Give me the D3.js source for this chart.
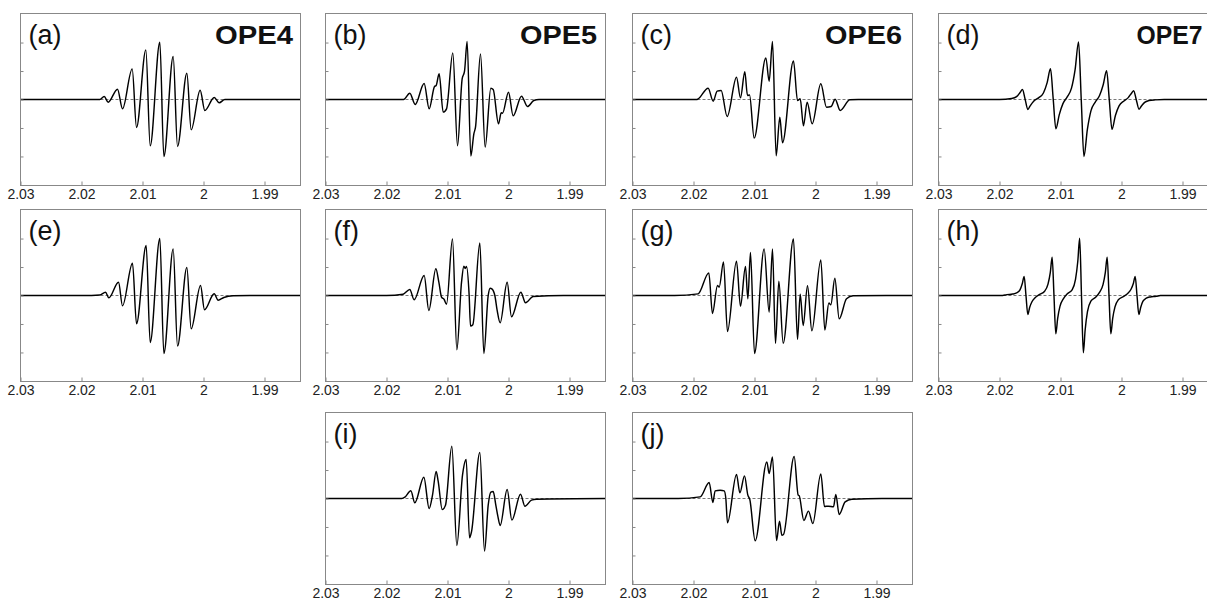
<!DOCTYPE html>
<html><head><meta charset="utf-8">
<script src="https://cdn.jsdelivr.net/npm/d3@7"></script>
<style>body{margin:0;background:#fff}svg{display:block}</style>
</head><body><svg id="c" width="1207" height="602"></svg>
<script>
// ---- data (g-value, intensity in tick units) ----
const xDomain = [2.03, 1.9841];
const yDomain = [-3.02, 3.02];
const xTicks = [2.03, 2.02, 2.01, 2.00, 1.99];
const yTicks = [-2, -1, 0, 1, 2];
const panelLabels = ["(a)","(b)","(c)","(d)","(e)","(f)","(g)","(h)","(i)","(j)"];
const titles = ["OPE4","OPE5","OPE6","OPE7"];

const specA = [[2.03,0],[2.0175,0],[2.0170,0],[2.01628,0.105],[2.01563,-0.094],[2.01410,0.363],[2.01328,-0.327],[2.01169,1.076],[2.01098,-0.982],[2.00945,1.743],[2.00874,-1.626],[2.00716,2.012],[2.00650,-2.0],[2.00497,1.509],[2.00426,-1.649],[2.00273,0.924],[2.00202,-1.064],[2.00055,0.327],[1.99978,-0.386],[1.99825,0.07],[1.99743,-0.117],[1.99650,0],[1.9841,0]];
const specB = [[2.03,0],[2.0172,0],[2.01618,0.222],[2.01530,-0.175],[2.01383,0.561],[2.01301,-0.327],[2.01213,0.456],[2.01186,0.491],[2.01137,0.901],[2.01071,-0.444],[2.01016,-0.327],[2.00913,1.637],[2.00836,-1.626],[2.00760,0.725],[2.00721,0.994],[2.00678,2.035],[2.00618,-1.988],[2.00568,-1.205],[2.00541,-0.971],[2.00459,1.602],[2.00383,-1.673],[2.00290,0.398],[2.00251,0.351],[2.00164,-0.854],[2.00120,-0.468],[2.00098,-0.480],[2.00000,0.257],[1.99924,-0.573],[1.99787,0.117],[1.99689,-0.246],[1.99585,-0.035],[1.9950,0],[1.9841,0]];
const specC = [[2.03,0],[2.0195,0],[2.01924,0.023],[2.01760,0.398],[2.01678,-0.058],[2.01612,0.292],[2.01547,0.316],[2.01448,-0.596],[2.01295,0.784],[2.01230,0.058],[2.01159,0.971],[2.01115,0.14],[2.01081,0.16],[2.01006,-1.357],[2.00814,1.462],[2.00760,0.643],[2.00705,2.035],[2.00645,-1.977],[2.00585,-0.620],[2.00541,-1.520],[2.00361,1.357],[2.00295,-0.035],[2.00251,0.023],[2.00197,-0.924],[2.00137,-0.094],[2.00055,-0.854],[1.99913,0.550],[1.99820,-0.269],[1.99743,-0.246],[1.99678,0.012],[1.99596,-0.386],[1.99437,-0.012],[1.9930,0],[1.9841,0]];
const specD = [[2.03,0],[2.0200,0],[2.0180,0.036],[2.0172,0.10],[2.0166,0.256],[2.01624,0.35],[2.0158,0.01],[2.01536,-0.35],[2.0150,-0.23],[2.0144,-0.06],[2.0136,0.058],[2.0128,0.23],[2.0122,0.585],[2.01164,1.08],[2.0112,0.03],[2.01076,-1.03],[2.0102,-0.53],[2.0096,-0.145],[2.0089,0.09],[2.0082,0.40],[2.0076,1.06],[2.00704,2.02],[2.0066,0],[2.00616,-2.0],[2.0056,-1.06],[2.0050,-0.39],[2.0043,-0.09],[2.0036,0.14],[2.0030,0.52],[2.00244,1.01],[2.0020,-0.02],[2.00156,-1.05],[2.0010,-0.56],[2.0004,-0.225],[1.9996,-0.05],[1.9989,0.066],[1.9983,0.24],[1.99801,0.31],[1.99757,-0.015],[1.99713,-0.34],[1.9967,-0.22],[1.9962,-0.10],[1.9955,-0.04],[1.9945,-0.013],[1.9930,0],[1.9841,0]];
const specE = [[2.03,0],[2.0197,0],[2.0170,0.02],[2.01607,0.117],[2.01552,-0.082],[2.01393,0.468],[2.01328,-0.363],[2.01164,1.135],[2.01098,-0.994],[2.00940,1.754],[2.00874,-1.649],[2.00716,2.0],[2.00650,-2.035],[2.00497,1.637],[2.00426,-1.778],[2.00273,0.982],[2.00202,-1.170],[2.00049,0.351],[1.99984,-0.503],[1.99825,0.058],[1.99760,-0.164],[1.99667,-0.07],[1.99514,-0.01],[1.9924,0],[1.9841,0]];
const specF = [[2.03,0],[2.0200,0],[2.01727,0.047],[2.01618,0.211],[2.01547,-0.152],[2.01383,0.702],[2.01306,-0.526],[2.01191,0.936],[2.01142,0.468],[2.01098,-0.058],[2.01055,-0.140],[2.01016,-0.304],[2.00918,1.988],[2.00847,-1.906],[2.00770,0.468],[2.00732,1.03],[2.00710,0.95],[2.00689,1.02],[2.00645,0],[2.00623,-1.076],[2.00585,-1.029],[2.00470,1.848],[2.00404,-2.035],[2.00333,0],[2.00301,0.257],[2.00273,0.234],[2.00224,0],[2.00186,-0.526],[2.00137,-0.959],[2.00022,0.468],[1.99951,-0.749],[1.99798,0.117],[1.99721,-0.257],[1.99596,-0.035],[1.9910,0],[1.9841,0]];
const specG = [[2.03,0],[2.0231,0],[2.01924,0.058],[2.01749,0.795],[2.01689,-0.632],[2.01607,0.351],[2.01579,0.292],[2.01508,1.181],[2.01443,-1.263],[2.01295,1.205],[2.01230,-0.374],[2.01148,1.018],[2.01109,-0.117],[2.01066,1.509],[2.01000,-2.035],[2.00842,1.637],[2.00760,-0.585],[2.00705,1.637],[2.00656,-1.684],[2.00601,0.503],[2.00530,-1.673],[2.00361,1.988],[2.00295,-1.544],[2.00251,0.047],[2.00202,-1.053],[2.00131,0.339],[2.00060,-1.240],[1.99913,1.251],[1.99847,-1.216],[1.99781,-0.26],[1.99749,-0.33],[1.99683,0.608],[1.99612,-0.819],[1.99492,-0.117],[1.99383,-0.012],[1.9884,0],[1.9841,0]];
const specH = [[2.03,0],[2.0195,0],[2.0188,0.03],[2.01785,0.05],[2.01719,0.09],[2.01664,0.2],[2.01626,0.42],[2.01596,0.67],[2.01566,0],[2.01536,-0.67],[2.01506,-0.42],[2.01468,-0.22],[2.01413,-0.07],[2.01347,0.03],[2.01260,0.15],[2.01205,0.4],[2.01167,0.81],[2.01137,1.345],[2.01107,0],[2.01077,-1.345],[2.01047,-0.81],[2.01009,-0.38],[2.00954,-0.12],[2.00888,0.06],[2.00810,0.2],[2.00754,0.57],[2.00716,1.21],[2.00686,2.01],[2.00656,0],[2.00626,-2.01],[2.00596,-1.21],[2.00558,-0.57],[2.00502,-0.2],[2.00424,-0.06],[2.00358,0.12],[2.00303,0.38],[2.00265,0.81],[2.00235,1.345],[2.00205,0],[2.00175,-1.345],[2.00145,-0.81],[2.00107,-0.4],[2.00052,-0.15],[1.99965,-0.03],[1.99899,0.07],[1.99844,0.22],[1.99806,0.42],[1.99776,0.67],[1.99746,0],[1.99716,-0.67],[1.99686,-0.42],[1.99648,-0.2],[1.99593,-0.09],[1.99527,-0.05],[1.99432,-0.03],[1.99362,0],[1.9841,0]];
const specI = [[2.03,0],[2.0175,0],[2.01699,0.047],[2.01601,0.269],[2.01536,-0.152],[2.01388,0.749],[2.01301,-0.351],[2.01246,0.117],[2.01186,0.947],[2.01153,0.608],[2.01087,-0.386],[2.01033,-0.234],[2.00929,1.836],[2.00847,-1.649],[2.00754,0.819],[2.00694,1.368],[2.00639,-1.380],[2.00607,-1.170],[2.00470,1.614],[2.00393,-1.848],[2.00333,-0.234],[2.00290,0.222],[2.00251,0.246],[2.00208,-0.234],[2.00175,-0.620],[2.00137,-0.947],[2.00022,0.316],[1.99945,-0.760],[1.99803,0.152],[1.99732,-0.269],[1.99623,-0.058],[1.99541,-0.023],[1.9841,0]];
const specJ = [[2.03,0],[2.0225,0],[2.01891,0.058],[2.01743,0.561],[2.01683,-0.140],[2.01645,0.269],[2.01563,0.292],[2.01497,0.269],[2.01470,0],[2.01443,-0.854],[2.01295,0.842],[2.01240,0.199],[2.01164,0.795],[2.01109,0.117],[2.01077,-0.035],[2.00989,-1.485],[2.00798,1.287],[2.00760,0.877],[2.00705,1.462],[2.00639,-1.474],[2.00590,-0.795],[2.00552,-1.287],[2.00525,-1.263],[2.00350,1.474],[2.00284,0.12],[2.00268,0.10],[2.00191,-0.772],[2.00115,-0.444],[2.00044,-0.877],[1.99913,0.865],[1.99853,-0.281],[1.99787,-0.269],[1.99705,-0.292],[1.99667,0.140],[1.99612,-0.561],[1.99514,-0.117],[1.99404,-0.023],[1.9891,0],[1.9841,0]];

// ---- layout ----
const W = 280, H = 172;
const colX = [20.5, 325.5, 632.5, 938.5];
const rowY = [13.5, 209.5, 412.5];
const titleX = [194.5, 194.5, 192.5, 198];
const titleW = [78, 77, 77, 66];
const panels = [
  {c:0,r:0,d:specA},{c:1,r:0,d:specB},{c:2,r:0,d:specC},{c:3,r:0,d:specD},
  {c:0,r:1,d:specE},{c:1,r:1,d:specF},{c:2,r:1,d:specG},{c:3,r:1,d:specH},
  {c:1,r:2,d:specI},{c:2,r:2,d:specJ}
];
const FONT = "'Liberation Sans', Arial, Helvetica, sans-serif";
const svg = d3.select('#c');

panels.forEach((p, i) => {
  const g = svg.append('g').attr('transform', `translate(${colX[p.c]},${rowY[p.r]})`);
  const x = d3.scaleLinear().domain(xDomain).range([0, W]);
  const y = d3.scaleLinear().domain(yDomain).range([H, 0]);
  const cid = 'clip' + i;
  g.append('clipPath').attr('id', cid).append('rect').attr('width', W).attr('height', H);

  g.append('line').attr('x1', 0).attr('x2', W).attr('y1', y(0)).attr('y2', y(0))
    .attr('stroke', '#555').attr('stroke-width', 0.8).attr('stroke-dasharray', '3,2');

  g.append('path').datum(p.d).attr('clip-path', `url(#${cid})`)
    .attr('d', d3.line().x(d => x(d[0])).y(d => y(d[1])).curve(d3.curveMonotoneX))
    .attr('fill', 'none').attr('stroke', '#000').attr('stroke-width', 1.45).attr('stroke-linejoin', 'round');

  const xa = g.append('g').attr('transform', `translate(0,${H})`)
    .call(d3.axisBottom(x).tickValues(xTicks).tickSize(-4).tickPadding(4)
      .tickFormat(d => String(+d.toFixed(2))));
  xa.select('.domain').remove();
  xa.selectAll('line').attr('stroke', '#888');
  xa.selectAll('text').attr('font-family', FONT).attr('font-size', 14).attr('fill', '#222');

  const ya = g.append('g').call(d3.axisLeft(y).tickValues(yTicks).tickSize(-3).tickFormat(''));
  ya.select('.domain').remove();
  ya.selectAll('line').attr('stroke', '#888');

  g.append('rect').attr('width', W).attr('height', H).attr('fill', 'none')
    .attr('stroke', '#888').attr('stroke-width', 1);

  g.append('text').attr('x', 8).attr('y', 30).attr('font-family', FONT)
    .attr('font-size', 27).attr('fill', '#111').text(panelLabels[i]);

  if (p.r === 0) {
    g.append('text').attr('x', titleX[p.c]).attr('y', 30).attr('font-family', FONT)
      .attr('font-size', 25).attr('font-weight', 'bold').attr('fill', '#111')
      .attr('textLength', titleW[p.c]).attr('lengthAdjust', 'spacingAndGlyphs').text(titles[p.c]);
  }
});
</script>
</body></html>
